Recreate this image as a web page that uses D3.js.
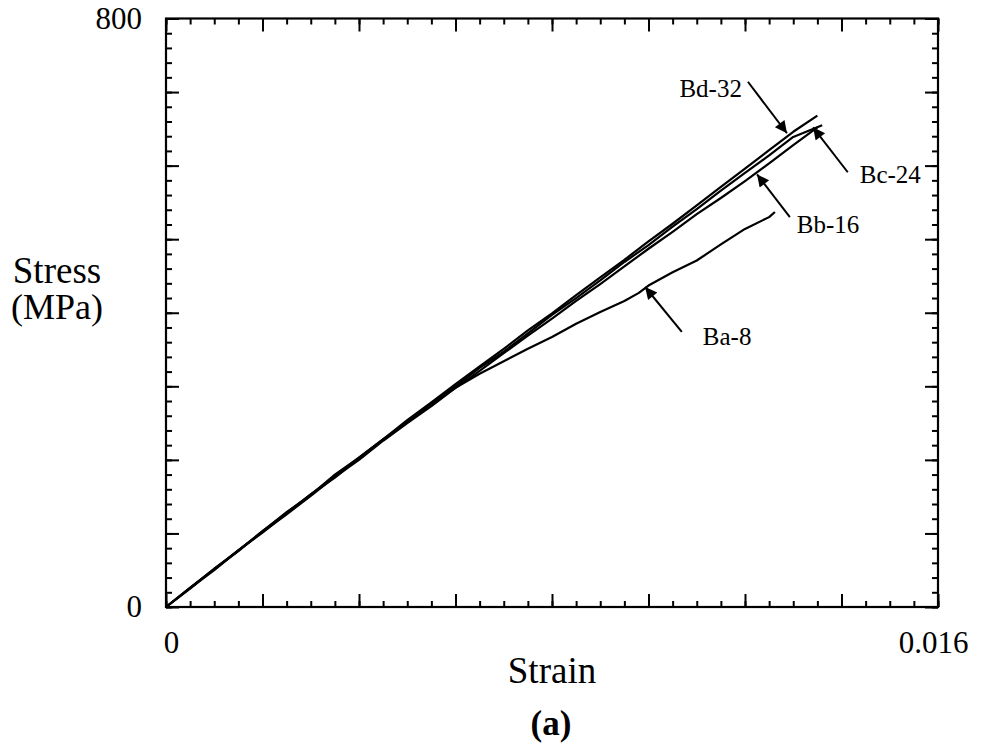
<!DOCTYPE html>
<html>
<head>
<meta charset="utf-8">
<script src="https://cdn.jsdelivr.net/npm/d3@7"></script>
<style>
  body { margin: 0; background: #fff; }
  text { font-family: "Liberation Serif", "Times New Roman", serif; fill: #000; }
</style>
</head>
<body>
<svg id="canvas"></svg>
<script>
// stress-strain curves, four specimens
let strain = [0, 0.0005, 0.001, 0.0015, 0.002, 0.0025, 0.003, 0.0035, 0.004, 0.0045, 0.005, 0.0055, 0.006, 0.0065,
              0.007, 0.0075, 0.008, 0.0085, 0.009, 0.0095, 0.010, 0.0105, 0.011, 0.0115, 0.012, 0.0125, 0.013, 0.0135]

let stressBd32 = [0, 26, 52, 76, 103, 129, 152, 180, 203, 228, 254, 278, 303, 327, 351, 376, 399, 424, 448, 472, 497, 521, 546, 571, 596, 621, 646, 668]
let stressBc24 = [0, 25, 51, 77, 101, 127, 153, 176, 202, 228, 251, 276, 300, 325, 347, 372, 397, 420, 444, 469, 492, 517, 541, 566, 590, 614, 639, 655]
let stressBb16 = [0, 26, 50, 77, 102, 126, 151, 177, 200, 226, 250, 273, 298, 321, 345, 369, 392, 416, 439, 463, 487, 510, 534, 556, 579, 603, 628, 652]

let strainBa8 = [0, 0.0005, 0.001, 0.0015, 0.002, 0.0025, 0.003, 0.0035, 0.004, 0.0045, 0.005, 0.0055, 0.006, 0.0065,
                 0.007, 0.0075, 0.008, 0.0085, 0.009, 0.0095, 0.0098, 0.010, 0.0105, 0.011, 0.0115, 0.012, 0.0125, 0.01262]
let stressBa8 = [0, 26, 52, 77, 103, 128, 153, 178, 203, 228, 252, 277, 298, 317, 334, 351, 367, 385, 401, 416, 427, 437, 455, 471, 493, 514, 530, 537]

let seriesNames = ['Bd-32', 'Bc-24', 'Bb-16', 'Ba-8']

// annotation arrows: tip and tail in data units
let noteTipStrain  = [0.01287, 0.01341, 0.01225, 0.00993]
let noteTipStress  = [644, 652, 588, 435]
let noteTailStrain = [0.01206, 0.01413, 0.01293, 0.01069]
let noteTailStress = [714, 591, 530, 374]

let xTickLabels = [0, 0.016]
let yTickLabels = [0, 800]

//dimensions
let width = 987
let height = 750
let padLeft = 166, padRight = 938, padTop = 18.5, padBottom = 607

let svg = d3.select('#canvas')
            .attr('width', width)
            .attr('height', height)

let x = d3.scaleLinear().domain([0, 0.016]).range([padLeft, padRight])
let y = d3.scaleLinear().domain([0, 800]).range([padBottom, padTop])

// arrow head
svg.append('defs').append('marker')
    .attr('id', 'arrow')
    .attr('viewBox', '0 0 10 10')
    .attr('refX', 10).attr('refY', 5)
    .attr('markerUnits', 'userSpaceOnUse')
    .attr('markerWidth', 20).attr('markerHeight', 12)
    .attr('orient', 'auto')
    .append('path')
    .attr('d', 'M0,0 L10,5 L0,10 z')
    .attr('fill', '#000')

// ticks, pointing inward on all four sides
let addTicks = (axis, transform, size, values) => {
    let g = svg.append('g')
        .attr('transform', transform)
        .call(axis.tickValues(values).tickSize(size).tickSizeOuter(0).tickFormat(''))
    g.select('.domain').remove()
    g.selectAll('line').attr('stroke', '#000').attr('stroke-width', 2)
}

let xMajor = x.ticks(8), xMinor = x.ticks(32)
let yMajor = y.ticks(8), yMinor = y.ticks(40)

addTicks(d3.axisBottom(x), `translate(0,${padBottom})`, -13, xMajor)
addTicks(d3.axisBottom(x), `translate(0,${padBottom})`, -6, xMinor)
addTicks(d3.axisTop(x), `translate(0,${padTop})`, -13, xMajor)
addTicks(d3.axisTop(x), `translate(0,${padTop})`, -6, xMinor)
addTicks(d3.axisLeft(y), `translate(${padLeft},0)`, -13, yMajor)
addTicks(d3.axisLeft(y), `translate(${padLeft},0)`, -6, yMinor)
addTicks(d3.axisRight(y), `translate(${padRight},0)`, -13, yMajor)
addTicks(d3.axisRight(y), `translate(${padRight},0)`, -6, yMinor)

// frame
svg.append('rect')
    .attr('x', padLeft).attr('y', padTop)
    .attr('width', padRight - padLeft).attr('height', padBottom - padTop)
    .attr('fill', 'none').attr('stroke', '#000').attr('stroke-width', 2.2)

// tick labels
let xLab = svg.append('g')
    .attr('transform', `translate(0,${padBottom})`)
    .call(d3.axisBottom(x).tickValues(xTickLabels).tickSize(0).tickPadding(24)
            .tickFormat(d => d === 0 ? '0' : d3.format('.3f')(d)))
xLab.select('.domain').remove()
xLab.selectAll('text')
    .attr('dx', d => d === 0 ? 5 : -5)
    .style('font-size', '31px').style('font-family', '"Liberation Serif", serif')

let yLab = svg.append('g')
    .attr('transform', `translate(${padLeft},0)`)
    .call(d3.axisLeft(y).tickValues(yTickLabels).tickSize(0).tickPadding(24))
yLab.select('.domain').remove()
yLab.selectAll('text').style('font-size', '31px').style('font-family', '"Liberation Serif", serif')

// axis titles
svg.append('text').attr('x', 57).attr('y', 283).attr('text-anchor', 'middle')
    .style('font-size', '37px').text('Stress')
svg.append('text').attr('x', 57).attr('y', 319).attr('text-anchor', 'middle')
    .style('font-size', '36px').text('(MPa)')
svg.append('text').attr('x', 552).attr('y', 683).attr('text-anchor', 'middle')
    .style('font-size', '37px').text('Strain')
svg.append('text').attr('x', 551).attr('y', 735).attr('text-anchor', 'middle')
    .style('font-size', '35px').style('font-weight', 'bold').text('(a)')

// curves
let line = d3.line()
    .x(d => x(d[0]))
    .y(d => y(d[1]))

let curves = [
    d3.zip(strain, stressBd32),
    d3.zip(strain.slice(0, 27).concat([0.0136]), stressBc24),
    d3.zip(strain, stressBb16),
    d3.zip(strainBa8, stressBa8)
]

svg.append('g').selectAll('path')
    .data(curves)
    .enter()
    .append('path')
    .attr('d', line)
    .attr('fill', 'none')
    .attr('stroke', '#000')
    .attr('stroke-width', 2.2)
    .attr('stroke-linejoin', 'round')

// annotations
let labelDx = [-6, 12, 7, 21]
let labelDy = [15, 11, 16, 13]
let labelAnchor = ['end', 'start', 'start', 'start']

for (let i = 0; i < seriesNames.length; i++) {
    svg.append('line')
        .attr('x1', x(noteTailStrain[i])).attr('y1', y(noteTailStress[i]))
        .attr('x2', x(noteTipStrain[i])).attr('y2', y(noteTipStress[i]))
        .attr('stroke', '#000').attr('stroke-width', 2)
        .attr('marker-end', 'url(#arrow)')

    svg.append('text')
        .attr('x', x(noteTailStrain[i]) + labelDx[i])
        .attr('y', y(noteTailStress[i]) + labelDy[i])
        .attr('text-anchor', labelAnchor[i])
        .style('font-size', '25px')
        .text(seriesNames[i])
}
</script>
</body>
</html>
